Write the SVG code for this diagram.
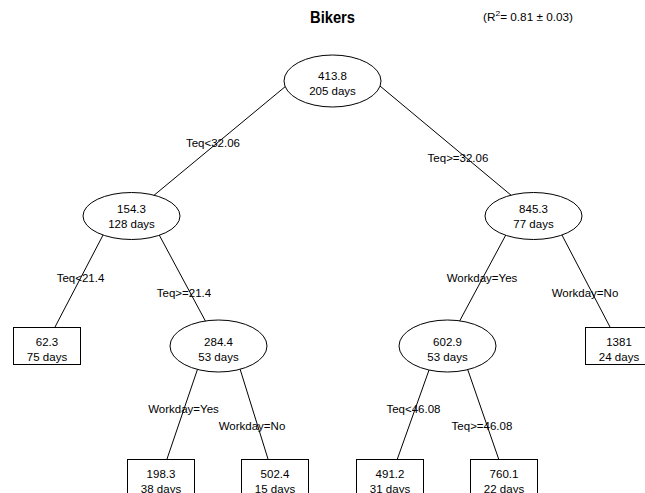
<svg xmlns="http://www.w3.org/2000/svg" width="645" height="493" viewBox="0 0 645 493">
<style>
text{font-family:"Liberation Sans",Arial,sans-serif;font-size:11.5px;fill:#000;text-anchor:middle}
.title{font-size:16px;font-weight:bold}
.sub{font-size:11px}
.lbl{font-size:11.5px}
.e{fill:#fff;stroke:#000;stroke-width:1}
.b{fill:#fff;stroke:#000;stroke-width:1}
#edges line{stroke:#000;stroke-width:1}
</style>
<rect width="645" height="493" fill="#fff"/>
<text class="title" x="332.5" y="23" textLength="45" lengthAdjust="spacingAndGlyphs">Bikers</text>
<text class="sub" x="528" y="21" textLength="90" lengthAdjust="spacingAndGlyphs">(R<tspan font-size="8" dy="-5">2</tspan><tspan dy="5">= 0.81 ± 0.03)</tspan></text>
<g id="edges">
<line x1="292" y1="81" x2="129" y2="216"/>
<line x1="374" y1="81" x2="536" y2="216"/>
<line x1="113" y1="216" x2="55" y2="327"/>
<line x1="149" y1="216" x2="207" y2="324"/>
<line x1="516" y1="216" x2="458" y2="324"/>
<line x1="552" y1="216" x2="610" y2="327"/>
<line x1="202" y1="356" x2="167" y2="459"/>
<line x1="236" y1="356" x2="268" y2="459"/>
<line x1="434" y1="356" x2="397" y2="460"/>
<line x1="463" y1="356" x2="499" y2="460"/>
</g>
<g id="edge-labels">
<text class="lbl" x="213" y="147">Teq&lt;32.06</text>
<text class="lbl" x="458" y="162">Teq&gt;=32.06</text>
<text class="lbl" x="80.5" y="282">Teq&lt;21.4</text>
<text class="lbl" x="184" y="297">Teq&gt;=21.4</text>
<text class="lbl" x="482" y="282">Workday=Yes</text>
<text class="lbl" x="585" y="297">Workday=No</text>
<text class="lbl" x="183.5" y="413">Workday=Yes</text>
<text class="lbl" x="252" y="430">Workday=No</text>
<text class="lbl" x="413.5" y="413">Teq&lt;46.08</text>
<text class="lbl" x="482" y="430">Teq&gt;=46.08</text>
</g>
<g id="n-root"><ellipse class="e" cx="332.5" cy="81" rx="48.5" ry="26"/><text x="332.5" y="80">413.8</text><text x="332.5" y="95">205 days</text></g>
<g id="n-154"><ellipse class="e" cx="131.5" cy="216" rx="48.5" ry="23.5"/><text x="131.5" y="213">154.3</text><text x="131.5" y="228">128 days</text></g>
<g id="n-845"><ellipse class="e" cx="533.5" cy="216" rx="48.5" ry="23.5"/><text x="533.5" y="213">845.3</text><text x="533.5" y="228">77 days</text></g>
<g id="n-284"><ellipse class="e" cx="218.5" cy="346" rx="48.5" ry="26"/><text x="218.5" y="346">284.4</text><text x="218.5" y="361">53 days</text></g>
<g id="n-602"><ellipse class="e" cx="447.5" cy="346" rx="48.5" ry="26"/><text x="447.5" y="346">602.9</text><text x="447.5" y="361">53 days</text></g>
<g id="n-62"><rect class="b" x="13.5" y="327.5" width="67" height="37"/><text x="47" y="346">62.3</text><text x="47" y="361">75 days</text></g>
<g id="n-1381"><rect class="b" x="585.5" y="327.5" width="67" height="37"/><text x="619" y="346">1381</text><text x="619" y="361">24 days</text></g>
<g id="n-198"><rect class="b" x="127.5" y="459.5" width="67" height="37"/><text x="161" y="478">198.3</text><text x="161" y="493">38 days</text></g>
<g id="n-502"><rect class="b" x="241.5" y="459.5" width="67" height="37"/><text x="275" y="478">502.4</text><text x="275" y="493">15 days</text></g>
<g id="n-491"><rect class="b" x="356.5" y="459.5" width="67" height="37"/><text x="390" y="478">491.2</text><text x="390" y="493">31 days</text></g>
<g id="n-760"><rect class="b" x="470.5" y="459.5" width="67" height="37"/><text x="504" y="478">760.1</text><text x="504" y="493">22 days</text></g>
</svg>
